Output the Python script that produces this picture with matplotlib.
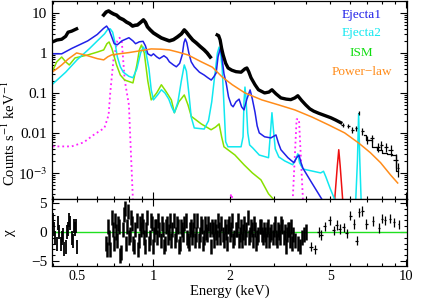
#X-ray spectrum with model components and residuals

import numpy as np
import matplotlib
matplotlib.use('Agg')
import matplotlib.pyplot as plt
from matplotlib.ticker import FixedLocator, FixedFormatter

plt.rcParams['font.family'] = ['Liberation Serif', 'DejaVu Serif']
plt.rcParams['mathtext.fontset'] = 'stix'

#data (counts s^-1 keV^-1)
data_lo_e = [0.40, 0.415, 0.434, 0.45, 0.46, 0.475, 0.497]
data_lo_v = [1.9, 2.1, 2.2, 2.6, 3.3, 3.5, 4.0]
data_e = [0.636, 0.65, 0.665, 0.68, 0.696, 0.715, 0.735, 0.76, 0.783, 0.805, 0.827, 0.845,
          0.865, 0.89, 0.913, 0.93, 0.947, 0.97, 1.0, 1.04, 1.075, 1.12, 1.156, 1.20,
          1.243, 1.29, 1.324, 1.35, 1.386, 1.43, 1.477, 1.53, 1.587, 1.63, 1.677]
data_v = [8.9, 10.5, 11.2, 10.2, 9.4, 8.8, 7.5, 6.8, 5.9, 5.4, 4.7, 4.9,
          5.0, 5.8, 6.7, 5.8, 4.5, 3.8, 3.16, 2.7, 2.37, 2.15, 2.0, 2.15,
          2.5, 3.0, 3.76, 3.3, 2.66, 2.1, 1.78, 1.45, 1.19, 1.0, 0.79]
data2_e = [1.786, 1.81, 1.835, 1.86, 1.886, 1.93, 1.973, 2.04, 2.12, 2.22, 2.30, 2.34,
           2.38, 2.43, 2.52, 2.6, 2.75, 2.86, 2.94, 3.05, 3.19, 3.35, 3.49, 3.62,
           3.72, 3.85, 4.0, 4.15, 4.30, 4.5, 4.7, 5.02, 5.25, 5.5]
data2_v = [2.82, 2.7, 2.11, 1.3, 0.89, 0.55, 0.42, 0.37, 0.34, 0.33, 0.40, 0.42,
           0.34, 0.24, 0.16, 0.12, 0.1, 0.105, 0.12, 0.095, 0.075, 0.07, 0.068, 0.075,
           0.085, 0.065, 0.05, 0.04, 0.035, 0.031, 0.028, 0.024, 0.021, 0.018]
tail_e = [5.6, 5.9, 6.1, 6.3, 6.47, 6.7, 7.0, 7.3, 7.7, 7.95, 8.3, 8.65, 9.06, 9.25]
tail_v = [0.016, 0.015, 0.012, 0.013, 0.032, 0.011, 0.0067, 0.0075, 0.0045, 0.005, 0.0045,
          0.0038, 0.0021, 0.0013]
tail_xerr = [0.08, 0.08, 0.08, 0.06, 0.05, 0.08, 0.1, 0.12, 0.14, 0.12, 0.16, 0.18, 0.18, 0.1]
tail_yerr = [0.002, 0.002, 0.002, 0.002, 0.004, 0.002, 0.0015, 0.0015, 0.0012, 0.0012, 0.0012,
             0.0011, 0.0008, 0.0005]
total_e = [6.8, 7.1, 7.45, 7.8, 8.2, 8.6, 9.0, 9.25]
total_v = [0.0089, 0.0067, 0.0045, 0.0038, 0.0032, 0.003, 0.0028, 0.0011]

#model components
ej1_e = [0.397, 0.434, 0.476, 0.55, 0.60, 0.635, 0.653, 0.668, 0.683, 0.70, 0.72, 0.75,
         0.80, 0.83, 0.85, 0.88, 0.91, 0.93, 0.95, 0.98, 1.0, 1.03, 1.056, 1.10,
         1.13, 1.156, 1.20, 1.232, 1.27, 1.30, 1.32, 1.336, 1.355, 1.38, 1.41, 1.45,
         1.52, 1.587, 1.64, 1.692, 1.73, 1.77, 1.80, 1.835, 1.86, 1.90, 1.938, 1.98,
         2.03, 2.065, 2.12, 2.18, 2.23, 2.28, 2.34, 2.41, 2.46, 2.52, 2.57, 2.62,
         2.75, 2.91, 3.05, 3.12, 3.19, 3.4, 3.59, 3.68, 3.76, 3.83, 3.9, 4.2, 4.63]
ej1_v = [0.95, 0.95, 1.3, 2.0, 2.9, 4.1, 4.7, 3.8, 2.6, 1.7, 1.6, 2.0,
         2.4, 2.0, 1.7, 1.9, 1.95, 1.5, 0.95, 0.85, 0.95, 0.8, 0.72, 0.85,
         0.75, 0.6, 0.5, 0.45, 0.55, 0.9, 1.8, 2.24, 1.8, 1.0, 0.6, 0.45,
         0.33, 0.28, 0.24, 0.21, 0.25, 0.316, 0.8, 1.26, 0.9, 0.3, 0.178, 0.08,
         0.05, 0.045, 0.06, 0.07, 0.045, 0.0376, 0.07, 0.119, 0.07, 0.033, 0.015, 0.01,
         0.008, 0.0075, 0.0089, 0.0055, 0.0038, 0.0024, 0.0018, 0.0024, 0.0028, 0.0018, 0.0013,
         0.0006, 0.00022]
ej2_e = [0.397, 0.45, 0.50, 0.56, 0.60, 0.641, 0.66, 0.675, 0.69, 0.705, 0.72, 0.74,
         0.76, 0.80, 0.83, 0.86, 0.89, 0.913, 0.935, 0.96, 0.98, 1.0, 1.04, 1.075,
         1.11, 1.15, 1.18, 1.21, 1.25, 1.289, 1.324, 1.35, 1.38, 1.41, 1.45, 1.587,
         1.65, 1.70, 1.75, 1.79, 1.818, 1.84, 1.87, 1.90, 1.93, 1.97, 2.22, 2.26,
         2.28, 2.30, 2.32, 2.36, 2.40, 2.47, 2.62, 2.85, 2.90, 2.94, 2.98, 3.03,
         3.13, 3.3, 3.55, 3.65, 3.72, 3.78, 3.9, 4.58, 4.70, 4.80, 5.0, 5.2]
ej2_v = [0.16, 0.33, 0.68, 1.3, 2.0, 3.0, 3.9, 4.0, 3.3, 1.8, 0.8, 0.45,
         0.33, 0.26, 0.24, 0.4, 1.0, 1.4, 1.0, 0.4, 0.12, 0.067, 0.09, 0.12,
         0.1, 0.07, 0.045, 0.032, 0.06, 0.2, 0.5, 0.35, 0.1, 0.025, 0.0133, 0.0125,
         0.02, 0.06, 0.3, 1.0, 1.4, 1.1, 0.4, 0.05, 0.006, 0.0045, 0.0045, 0.008,
         0.06, 0.14, 0.08, 0.01, 0.005, 0.0042, 0.0028, 0.0024, 0.01, 0.032, 0.012, 0.004,
         0.0025, 0.002, 0.0016, 0.0022, 0.003, 0.0018, 0.00125, 0.001, 0.0011, 0.0008, 0.0004,
         0.00022]
ej2_fe_e = [6.3, 6.40, 6.47, 6.54, 6.62]
ej2_fe_v = [0.0002, 0.002, 0.03, 0.002, 0.0002]
ism_e = [0.397, 0.415, 0.434, 0.45, 0.465, 0.49, 0.55, 0.60, 0.636, 0.655, 0.668, 0.685,
         0.715, 0.74, 0.77, 0.83, 0.86, 0.88, 0.897, 0.92, 0.95, 0.98, 1.03, 1.075,
         1.12, 1.177, 1.21, 1.26, 1.324, 1.37, 1.411, 1.545, 1.69, 1.76, 1.818, 1.86,
         1.9, 2.1, 2.28, 2.46, 2.66, 2.85, 3.0]
ism_v = [0.33, 0.6, 0.79, 0.6, 0.5, 0.75, 0.89, 1.05, 1.19, 1.7, 1.88, 1.3,
         0.5, 0.28, 0.21, 0.178, 0.5, 1.2, 1.58, 1.0, 0.2, 0.067, 0.1, 0.16,
         0.11, 0.067, 0.032, 0.06, 0.089, 0.05, 0.026, 0.0168, 0.012, 0.014, 0.0168, 0.008,
         0.0045, 0.0028, 0.0016, 0.001, 0.00067, 0.0003, 0.00021]
pl_e = [0.397, 0.415, 0.434, 0.46, 0.497, 0.55, 0.60, 0.636, 0.66, 0.683, 0.73, 0.80,
        0.9, 0.98, 1.07, 1.156, 1.25, 1.37, 1.545, 1.71, 1.87, 2.05, 2.3, 2.68,
        3.13, 3.62, 4.23, 4.93, 5.7, 6.47, 7.2, 7.9, 8.65, 9.23]
pl_v = [0.33, 0.4, 0.5, 0.7, 1.0, 0.85, 0.72, 0.67, 0.8, 0.89, 0.95, 1.02,
        1.15, 1.26, 1.24, 1.19, 1.05, 0.89, 0.6, 0.44, 0.25, 0.16, 0.1, 0.067,
        0.05, 0.0376, 0.025, 0.0158, 0.01, 0.0056, 0.0032, 0.0018, 0.00089, 0.00056]
gau_e = [0.40, 0.475, 0.53, 0.58, 0.64, 0.665, 0.675, 0.695, 0.72, 0.735, 0.75, 0.77,
         0.80, 0.81, 0.83]
gau_v = [0.0046, 0.0046, 0.0058, 0.0089, 0.0133, 0.028, 0.1, 0.67, 2.0, 2.4, 1.9, 0.21,
         0.05, 0.0075, 0.0002]
gau2_e = [2.0, 2.03, 2.06]
gau2_v = [0.0002, 0.0003, 0.0002]
gau3_e = [3.55, 3.68, 3.76, 3.9]
gau3_v = [0.0002, 0.022, 0.022, 0.0002]
red_e = [5.2, 5.33, 5.4, 5.47, 5.6]
red_v = [0.0002, 0.0015, 0.0038, 0.0015, 0.0002]

#residuals (chi)
res_lo_e = [0.40, 0.405, 0.41, 0.415, 0.42, 0.425, 0.43, 0.435, 0.44, 0.445, 0.45,
            0.455, 0.46, 0.465, 0.47, 0.475, 0.48, 0.485, 0.49, 0.495, 0.50]
res_lo = [2.0, 0.5, -1.0, -2.0, 1.5, 0.0, -2.0, -1.0, -0.5, -3.0, -2.5,
          0.0, 0.5, 2.0, 1.5, -1.0, -1.5, 1.0, 0.5, 1.0, -2.5]
res_e = [0.650, 0.663, 0.676, 0.690, 0.704, 0.718, 0.732, 0.747, 0.762, 0.777,
         0.792, 0.808, 0.824, 0.841, 0.858, 0.875, 0.892, 0.910, 0.928, 0.947,
         0.966, 0.985, 1.005, 1.025, 1.046, 1.067, 1.088, 1.110, 1.132, 1.154,
         1.177, 1.201, 1.225, 1.250, 1.275, 1.300, 1.326, 1.353, 1.380, 1.407,
         1.435, 1.464, 1.493, 1.523, 1.554, 1.585, 1.617, 1.649, 1.682, 1.716,
         1.750, 1.785, 1.821, 1.857, 1.894, 1.932, 1.971, 2.010, 2.050, 2.091,
         2.133, 2.176, 2.219, 2.264, 2.309, 2.355, 2.402, 2.450, 2.499, 2.549,
         2.600, 2.652, 2.705, 2.759, 2.814, 2.871, 2.928, 2.987, 3.046, 3.107,
         3.170, 3.233, 3.298, 3.364, 3.431, 3.500, 3.570, 3.641, 3.714, 3.788,
         3.864, 3.941, 4.020]
res = [-2.0, 1.0, -3.0, 0.5, 2.0, -1.5, 1.0, -3.5, 3.0, -2.0,
       3.5, -0.5, 1.5, -2.5, 2.0, -1.5, 0.5, 1.0, -2.5, 2.5,
       -1.0, 1.5, -0.5, 1.0, 2.0, -1.5, 0.5, -2.0, 1.5, 0.0,
       -1.5, 2.0, -0.5, 1.0, -2.0, 0.5, 1.5, -1.0, -2.0, 1.0,
       0.5, -1.5, 2.0, -0.5, 1.0, -1.0, 0.0, 1.5, -2.5, 0.5,
       1.0, -1.0, 0.5, 1.5, -1.5, 0.0, 1.0, -0.5, 2.0, -1.0,
       0.5, -1.5, 1.0, 0.0, -1.0, 2.5, -0.5, 0.5, 1.5, -2.0,
       -0.5, 1.0, -1.0, -0.5, 0.5, -1.5, 0.0, 0.5, -1.0, 0.5,
       -1.0, 1.0, 0.0, -0.5, 0.5, 1.0, -0.5, -1.5, -2.0, -2.5,
       -1.0, -0.5, 0.0]
res2_e = [0.656, 0.670, 0.683, 0.697, 0.711, 0.725, 0.740, 0.755, 0.770, 0.785,
          0.800, 0.816, 0.832, 0.849, 0.866, 0.883, 0.901, 0.919, 0.938, 0.957,
          0.975, 0.995, 1.015, 1.035, 1.056, 1.077, 1.099, 1.121, 1.143, 1.166,
          1.189, 1.213, 1.238, 1.262, 1.288, 1.313, 1.340, 1.366, 1.394, 1.421,
          1.450, 1.478, 1.508, 1.538, 1.569, 1.601, 1.633, 1.666, 1.699, 1.733,
          1.768, 1.803, 1.839, 1.876, 1.913, 1.952, 1.990, 2.030, 2.071, 2.112,
          2.154, 2.197, 2.242, 2.286, 2.332, 2.379, 2.426, 2.475, 2.524, 2.575,
          2.626, 2.678, 2.732, 2.787, 2.843, 2.899, 2.957, 3.016, 3.077, 3.138,
          3.201, 3.266, 3.331, 3.397, 3.466, 3.535]
res2 = [-3.0, -1.0, 2.5, -2.0, 0.0, 1.5, -4.0, 0.5, 4.0, 1.0,
        -1.0, 2.5, -2.0, 0.5, -3.0, 1.5, 2.0, -1.0, 0.5, -2.0,
        2.0, -2.5, 1.0, -1.0, 0.5, 1.5, -2.5, 1.0, -1.0, 2.0,
        0.5, -1.5, 1.5, -2.5, 1.0, -0.5, 2.0, -1.5, 0.5, -1.0,
        2.0, -0.5, -1.5, 1.5, -2.0, 1.5, -0.5, 0.5, 1.0, -1.5,
        0.0, 2.0, -1.0, -0.5, 1.0, -2.0, 1.5, 0.5, -1.5, 0.5,
        2.0, -0.5, -1.5, 1.5, 0.5, -1.0, 1.0, -1.5, 0.5, -1.0,
        1.0, -0.5, 0.5, -1.5, 1.0, -0.5, -1.0, 1.5, -1.5, 0.0,
        1.5, -1.0, -2.5, 0.5, -1.5, -2.0]
res_hi_e = [4.2, 4.35, 4.5, 4.6, 4.75, 4.98, 5.15, 5.3, 5.45, 5.65, 5.8, 6.0,
            6.2, 6.35, 6.5, 6.7, 6.95, 7.4, 7.8, 8.0, 8.2, 8.6, 8.95, 9.3]
res_hi = [-2.5, -3.0, 0.0, -0.5, 1.0, 2.0, 0.3, 1.2, 0.5, 0.8, -0.2, 2.8,
          1.4, -1.5, 3.4, 3.6, 1.4, 1.9, 0.7, 2.3, 2.0, 2.3, 1.7, 1.3]

fig = plt.figure(figsize=(4.22, 3.0), dpi=100)
ax = fig.add_axes([0.123, 0.337, 0.841, 0.66])
ax2 = fig.add_axes([0.123, 0.113, 0.841, 0.224], sharex=ax)

lw = 1.1
mag = '#ff20ff'
ax.plot(gau_e, gau_v, color=mag, ls=':', lw=1.3)
ax.plot(gau2_e, gau2_v, color=mag, ls=':', lw=1.3)
ax.plot(gau3_e, gau3_v, color=mag, ls=':', lw=1.3)
ax.plot(red_e, red_v, color='#ee1010', lw=lw)
ax.plot(ism_e, ism_v, color='#88e000', lw=lw)
ax.plot(ej2_e, ej2_v, color='#10e8f0', lw=lw)
ax.plot(ej2_fe_e, ej2_fe_v, color='#10e8f0', lw=lw)
ax.plot(ej1_e, ej1_v, color='#2020e8', lw=lw)
ax.plot(pl_e, pl_v, color='#ff8c1a', lw=lw)
ax.plot(data_lo_e, data_lo_v, color='k', lw=2.4)
ax.plot(data_e, data_v, color='k', lw=2.6)
ax.plot(data2_e, data2_v, color='k', lw=2.4)
ax.step(total_e, total_v, where='mid', color='k', lw=0.9)
ax.errorbar(tail_e, tail_v, xerr=tail_xerr, yerr=tail_yerr, fmt='none', ecolor='k', elinewidth=0.9)

ax.set_xscale('log')
ax.set_yscale('log')
ax.set_xlim(0.397, 10.03)
ax.set_ylim(2.24e-4, 20)
ax.set_ylabel('Counts s$^{-1}$ keV$^{-1}$', fontsize=10.5)
ax.yaxis.set_label_coords(-0.096, 0.333)
ax.set_yticks([1e-3, 1e-2, 0.1, 1, 10])
ax.set_yticklabels(['10$^{-3}$', '0.01', '0.1', '1', '10'])

tx = 0.873
ax.text(tx, 0.929, 'Ejecta1', color='#2020e8', transform=ax.transAxes, ha='center', va='center', fontsize=9.5)
ax.text(tx, 0.838, 'Ejecta2', color='#10e8f0', transform=ax.transAxes, ha='center', va='center', fontsize=9.5)
ax.text(tx, 0.737, 'ISM', color='#10dd10', transform=ax.transAxes, ha='center', va='center', fontsize=9.5)
ax.text(tx, 0.641, 'Power\u2212law', color='#ff8c1a', transform=ax.transAxes, ha='center', va='center', fontsize=9.5)

#residual panel
ax2.axhline(0, color='#20e020', lw=1.0)
ax2.errorbar(res_lo_e, res_lo, yerr=1.2, fmt='none', ecolor='k', elinewidth=1.3)
ax2.errorbar(res_e, res, yerr=1.3, fmt='none', ecolor='k', elinewidth=1.8)
ax2.errorbar(res2_e, res2, yerr=1.3, fmt='none', ecolor='k', elinewidth=1.8)
ax2.errorbar(res_hi_e, res_hi, yerr=0.8, xerr=0.07, fmt='none', ecolor='k', elinewidth=0.9)
ax2.set_ylim(-5.86, 5.7)
ax2.set_yticks([-5, 0, 5])
ax2.set_yticklabels(['\u22125', '0', '5'])
ax2.yaxis.set_minor_locator(FixedLocator([-4, -3, -2, -1, 1, 2, 3, 4]))
ax2.set_ylabel('\u03c7', fontsize=11)
ax2.yaxis.set_label_coords(-0.101, 0.5)
ax2.set_xlabel('Energy (keV)', fontsize=10.5, labelpad=1)

for a in (ax, ax2):
    a.xaxis.set_major_locator(FixedLocator([1, 10]))
    a.xaxis.set_minor_locator(FixedLocator([0.4, 0.5, 0.6, 0.7, 0.8, 0.9, 2, 3, 4, 5, 6, 7, 8, 9]))
    a.tick_params(which='both', direction='in', top=True, right=True, width=0.8)
    a.tick_params(axis='y', labelsize=11)
    a.tick_params(axis='x', labelsize=10.5)
    a.tick_params(which='major', length=5)
    a.tick_params(which='minor', length=2.5)
    for s in a.spines.values():
        s.set_linewidth(0.9)

plt.setp(ax.get_xticklabels(which='both'), visible=False)
ax2.xaxis.set_major_formatter(FixedFormatter(['1', '10']))
ax2.xaxis.set_minor_formatter(FixedFormatter(['', '0.5', '', '', '', '', '2', '', '', '5', '', '', '', '']))
ax2.tick_params(axis='x', which='both', pad=3)

fig.savefig('out.png', dpi=100)
